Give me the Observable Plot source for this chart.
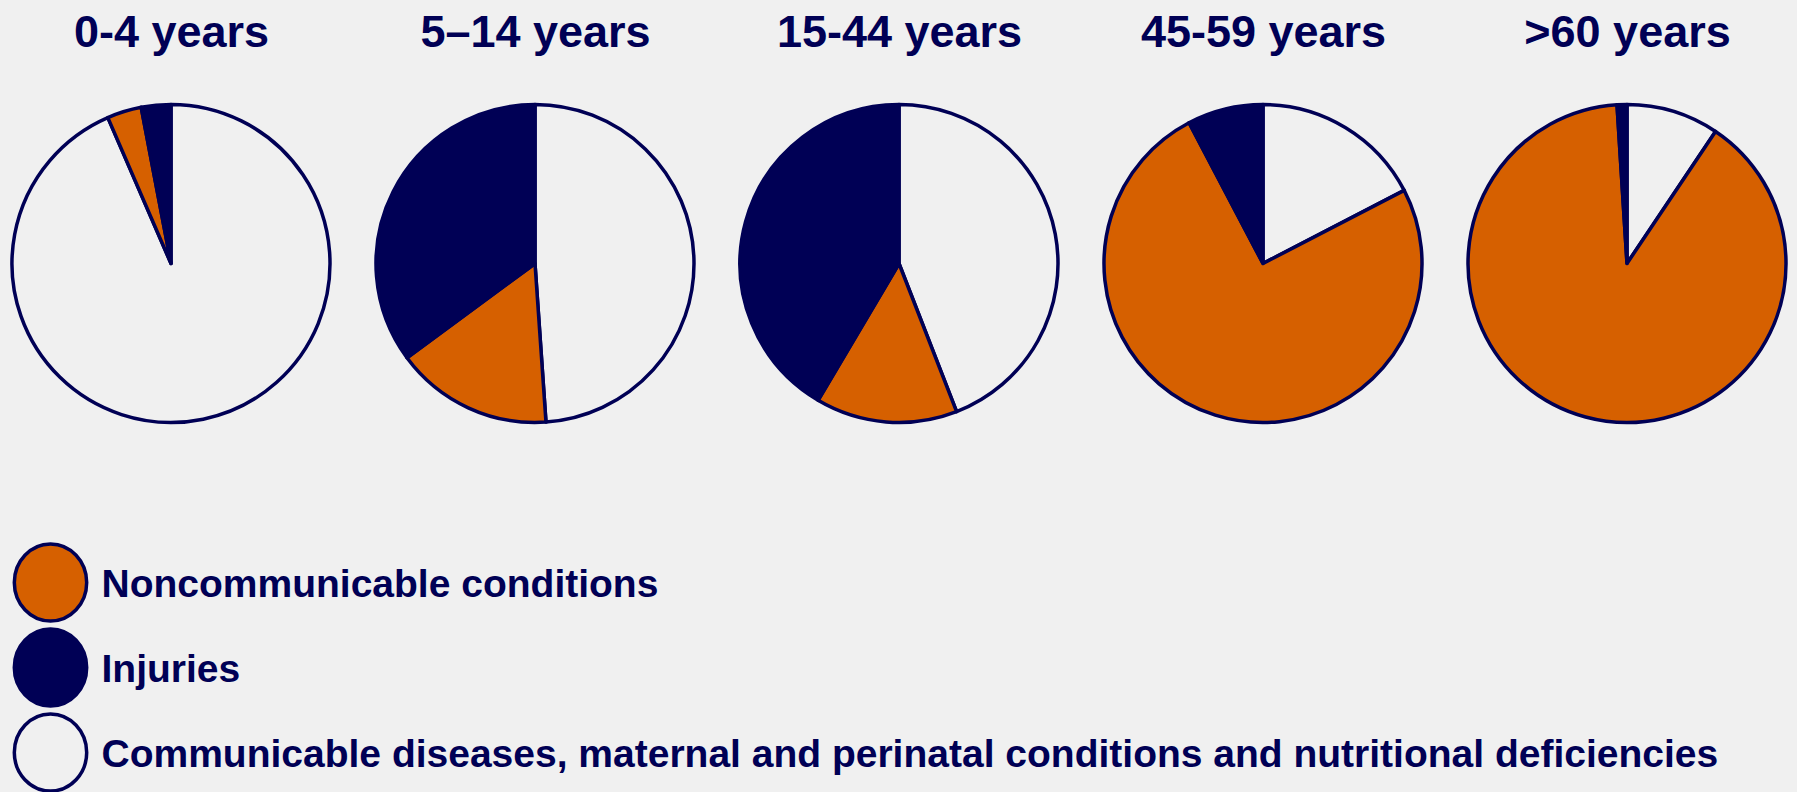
<!DOCTYPE html>
<html>
<head>
<meta charset="utf-8">
<script src="https://cdn.jsdelivr.net/npm/d3@7"></script>
<script src="https://cdn.jsdelivr.net/npm/@observablehq/plot@0.6"></script>
<style>
  html, body { margin: 0; padding: 0; background: #f0f0f0; }
  #chart { width: 1797px; height: 792px; overflow: hidden; }
  #chart svg { display: block; }
</style>
</head>
<body>
<div id="chart"></div>
<script>
// Share of deaths (%) by cause, per age group
const ageGroups = ["0-4 years", "5–14 years", "15-44 years", "45-59 years", ">60 years"];
const communicable = [93.5, 48.9, 44.1, 17.4, 9.4];
const noncommunicable = [3.5, 16.0, 14.4, 74.9, 89.6];
const injuries = [3.0, 35.1, 41.5, 7.7, 1.0];

// Causes, listed in legend order
const causes = [
  "Noncommunicable conditions",
  "Injuries",
  "Communicable diseases, maternal and perinatal conditions and nutritional deficiencies"
];
const causeColors = ["#d66000", "#000055", "#f0f0f0"];

const navy = "#000055";
const W = 1797;

// Long table: slices go clockwise from 12 o'clock — communicable, noncommunicable, injuries
const rows = ageGroups.flatMap((age, i) => [
  {age, cause: causes[2], share: communicable[i]},
  {age, cause: causes[0], share: noncommunicable[i]},
  {age, cause: causes[1], share: injuries[i]}
]);

const color = Plot.scale({color: {domain: causes, range: causeColors}});

// Pie mark: one pie per age group, centred on the x position of its group
const pieRadius = 159;
const pieCenterY = 263.5;
function pies(index, scales) {
  const g = d3.create("svg:g")
    .attr("stroke", navy)
    .attr("stroke-width", 3.5)
    .attr("stroke-linejoin", "round");
  const pie = d3.pie().sort(null).value(d => d.share);
  const arc = d3.arc().innerRadius(0).outerRadius(pieRadius);
  for (const age of ageGroups) {
    g.append("g")
      .attr("transform", `translate(${scales.x(age)},${pieCenterY})`)
      .selectAll("path")
      .data(pie(rows.filter(d => d.age === age)))
      .join("path")
      .attr("d", arc)
      .attr("fill", d => color.apply(d.data.cause));
  }
  return g.node();
}

const piePlot = Plot.plot({
  width: W,
  height: 440,
  marginTop: 0,
  marginBottom: 0,
  marginLeft: 170,
  marginRight: 170,
  style: {background: "#f0f0f0", fontFamily: "Liberation Sans, Arial, sans-serif"},
  x: {type: "point", domain: ageGroups, padding: 0, axis: null},
  marks: [
    pies,
    Plot.text(ageGroups, {
      x: d => d,
      frameAnchor: "top",
      dy: 46,
      lineAnchor: "bottom",
      fontSize: 45,
      fontWeight: "bold",
      fill: navy
    })
  ]
});

// Ellipse symbol for the legend swatches (slightly taller than wide)
const ellipse = {
  draw(context, size) {
    const r = Math.sqrt(size / Math.PI);
    const rx = r * 0.94, ry = r, k = 0.5522847498;
    context.moveTo(rx, 0);
    context.bezierCurveTo(rx, k * ry, k * rx, ry, 0, ry);
    context.bezierCurveTo(-k * rx, ry, -rx, k * ry, -rx, 0);
    context.bezierCurveTo(-rx, -k * ry, -k * rx, -ry, 0, -ry);
    context.bezierCurveTo(k * rx, -ry, rx, -k * ry, rx, 0);
    context.closePath();
  }
};

const legendPlot = Plot.plot({
  width: W,
  height: 352,
  marginTop: 141,
  marginBottom: 40,
  marginLeft: 0,
  marginRight: 0,
  style: {background: "#f0f0f0", fontFamily: "Liberation Sans, Arial, sans-serif"},
  y: {type: "point", domain: causes, padding: 0, axis: null},
  color: {domain: causes, range: causeColors},
  marks: [
    Plot.dot(causes, {
      y: d => d,
      frameAnchor: "left",
      dx: 50,
      r: 38.5,
      symbol: ellipse,
      fill: d => d,
      stroke: navy,
      strokeWidth: 3.5
    }),
    Plot.text(causes, {
      y: d => d,
      frameAnchor: "left",
      dx: 101,
      dy: 14,
      textAnchor: "start",
      lineAnchor: "bottom",
      fontSize: 39,
      fontWeight: "bold",
      fill: navy
    })
  ]
});

const chart = document.getElementById("chart");
chart.append(piePlot, legendPlot);
</script>
</body>
</html>
